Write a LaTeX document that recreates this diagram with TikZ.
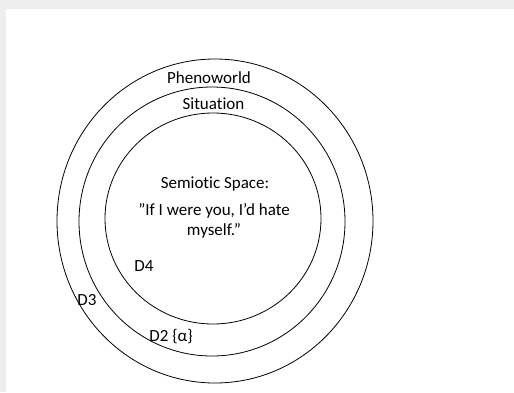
\documentclass[tikz,border=0pt]{standalone}
\usepackage{fontspec}
\setmainfont[Ligatures=NoCommon]{Carlito}
\definecolor{frame}{HTML}{EEEEEE}
\begin{document}
\begin{tikzpicture}[x=1pt,y=-1pt,
  ring/.style={draw=black, line width=0.8pt},
  lbl/.style={font=\fontsize{17}{20}\selectfont, inner sep=0pt, anchor=base}]
% page with a thin grey strip along the top and left
\fill[frame] (0,0) rectangle (514,392);
\fill[white] (6,9) rectangle (514,392);
\useasboundingbox (0,0) rectangle (514,392);

% nested domains
\draw[ring] (215,221) ellipse [x radius=158pt, y radius=162pt];
\draw[ring] (212,221.5) ellipse [x radius=133pt, y radius=134.5pt];
\draw[ring] (213,218.5) ellipse [x radius=108pt, y radius=105.5pt];

% labels
\node[lbl] (pheno) at (209,83) {Phenoworld};
\node[lbl] (sit) at (213.5,109) {Situation};
\node[lbl] (sem) at (215,188) {Semiotic Space:};
\node[lbl] (quote1) at (214,215) {”If I were you, I’d hate};
\node[lbl] (quote2) at (214,235) {myself.”};
\node[lbl] (d4) at (144,271) {D4};
\node[lbl] (d3) at (87,305) {D3};
\node[lbl] (d2) at (171,341) {D2 \{α\}};
\end{tikzpicture}
\end{document}
